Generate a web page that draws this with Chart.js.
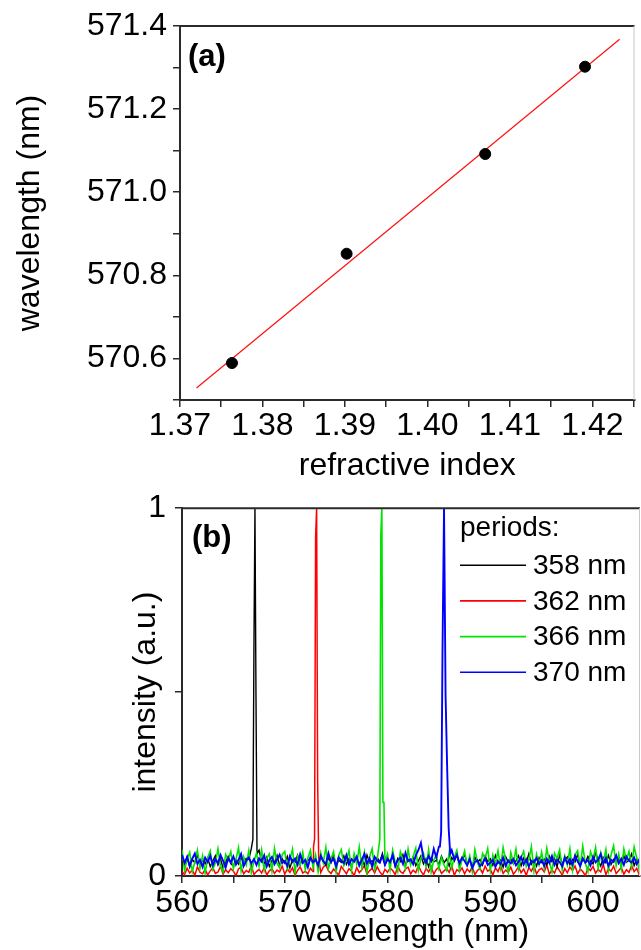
<!DOCTYPE html>
<html>
<head>
<meta charset="utf-8">
<title>refractive index / spectra</title>
<script src="https://cdn.jsdelivr.net/npm/chart.js"></script>
<style>
  body { margin: 0; background: #fff; }
  #wrap { position: relative; width: 641px; height: 950px; }
  #boxA { position: absolute; left: 0; top: 0; }
  #boxB { position: absolute; left: 0; top: 480px; }
</style>
</head>
<body>
<div id="wrap">
  <div id="boxA"><canvas id="chartA" width="641" height="480"></canvas></div>
  <div id="boxB"><canvas id="chartB" width="641" height="470"></canvas></div>
</div>
<script>
//* DATA: PANEL (a) *//
let refIndex = [1.3763, 1.3902, 1.4070, 1.4191];
let peakWavelength = [570.589, 570.852, 571.092, 571.302];
let fitIndex = [1.3720, 1.4233];
let fitWavelength = [570.529, 571.368];

//* DATA: PANEL (b) *//
let periodLabels = ['358 nm', '362 nm', '366 nm', '370 nm'];
let periodColors = ['#000000', '#ff0000', '#00e400', '#0000ff'];
let legendTitle = 'periods:';

// baseline samples start at 560 nm, one every 0.25 nm
let gridStart = 560;
let gridStep = 0.25;

let base358 = [
  0.04, 0.031, 0.052, 0.024, 0.045, 0.036, 0.058, 0.028, 0.043, 0.033,
  0.049, 0.026, 0.041, 0.055, 0.03, 0.046, 0.021, 0.038, 0.053, 0.034,
  0.027, 0.044, 0.032, 0.05, 0.039, 0.048, 0.045, 0.075, 0.08, 0.07,
  0.07, 0.04, 0.033, 0.051, 0.026, 0.042, 0.037, 0.056, 0.029, 0.047,
  0.035, 0.053, 0.022, 0.044, 0.038, 0.057, 0.031, 0.048, 0.027, 0.042,
  0.05, 0.034, 0.045, 0.025, 0.054, 0.039, 0.03, 0.049, 0.036, 0.058,
  0.028, 0.043, 0.037, 0.055, 0.032, 0.047, 0.024, 0.051, 0.04, 0.034,
  0.046, 0.029, 0.057, 0.036, 0.042, 0.027, 0.05, 0.038, 0.061, 0.031,
  0.044, 0.035, 0.053, 0.026, 0.048, 0.039, 0.058, 0.03, 0.045, 0.037,
  0.052, 0.028, 0.041, 0.055, 0.033, 0.047, 0.025, 0.049, 0.038, 0.043,
  0.031, 0.054, 0.036, 0.046, 0.027, 0.05, 0.04, 0.057, 0.032, 0.044,
  0.058, 0.034, 0.042, 0.026, 0.051, 0.037, 0.045, 0.03, 0.055, 0.039,
  0.047, 0.029, 0.056, 0.035, 0.043, 0.024, 0.052, 0.038, 0.046, 0.033,
  0.041, 0.055, 0.028, 0.049, 0.036, 0.06, 0.032, 0.044, 0.027, 0.05,
  0.037, 0.046, 0.03, 0.054, 0.039, 0.048, 0.025, 0.057, 0.034, 0.043,
  0.052, 0.031, 0.045, 0.038, 0.059, 0.029, 0.047, 0.036, 0.053, 0.04,
  0.033, 0.065, 0.042, 0.027, 0.05, 0.036, 0.056, 0.031, 0.045, 0.039,
  0.048, 0.03, 0.055, 0.037, 0.043, 0.06, 0.028, 0.046, 0.035, 0.052
];
let base362 = [
  0.012, 0.004, 0.021, 0.008, 0.016, 0.002, 0.025, 0.01, 0.006, 0.018,
  0.003, 0.014, 0.022, 0.007, 0.011, 0.026, 0.005, 0.017, 0.009, 0.02,
  0.013, 0.001, 0.019, 0.024, 0.006, 0.015, 0.01, 0.028, 0.004, 0.012,
  0.018, 0.008, 0.023, 0.003, 0.014, 0.02, 0.007, 0.016, 0.011, 0.027,
  0.005, 0.019, 0.01, 0.022, 0.002, 0.015, 0.025, 0.008, 0.013, 0.006,
  0.021, 0.012, 0.004, 0.017, 0.009, 0.024, 0.03, 0.014, 0.007, 0.019,
  0.011, 0.003, 0.026, 0.016, 0.006, 0.02, 0.013, 0.001, 0.023, 0.009,
  0.017, 0.028, 0.005, 0.014, 0.021, 0.008, 0.025, 0.011, 0.002, 0.018,
  0.01, 0.022, 0.015, 0.004, 0.027, 0.012, 0.007, 0.019, 0.024, 0.006,
  0.016, 0.009, 0.029, 0.013, 0.003, 0.021, 0.011, 0.026, 0.005, 0.018,
  0.024, 0.007, 0.014, 0.02, 0.01, 0.028, 0.002, 0.017, 0.012, 0.022,
  0.006, 0.019, 0.011, 0.025, 0.004, 0.015, 0.021, 0.008, 0.027, 0.013,
  0.018, 0.003, 0.022, 0.012, 0.029, 0.007, 0.016, 0.01, 0.024, 0.005,
  0.014, 0.026, 0.009, 0.019, 0.002, 0.023, 0.013, 0.028, 0.006, 0.017,
  0.021, 0.011, 0.03, 0.005, 0.016, 0.008, 0.025, 0.014, 0.003, 0.02,
  0.009, 0.024, 0.015, 0.027, 0.006, 0.019, 0.012, 0.001, 0.022, 0.015,
  0.026, 0.008, 0.018, 0.011, 0.031, 0.004, 0.02, 0.013, 0.027, 0.007,
  0.015, 0.023, 0.005, 0.017, 0.01, 0.028, 0.012, 0.021, 0.003, 0.019
];
let base366 = [
  0.072, 0.015, 0.046, 0.064, 0.012, 0.038, 0.07, 0.021, 0.055, 0.008,
  0.05, 0.068, 0.018, 0.035, 0.074, 0.026, 0.011, 0.059, 0.043, 0.066,
  0.02, 0.045, 0.077, 0.014, 0.052, 0.03, 0.069, 0.009, 0.04, 0.062,
  0.027, 0.071, 0.016, 0.048, 0.06, 0.013, 0.075, 0.034, 0.022, 0.058,
  0.067, 0.019, 0.044, 0.073, 0.01, 0.053, 0.031, 0.065, 0.017, 0.049,
  0.07, 0.024, 0.057, 0.012, 0.063, 0.036, 0.078, 0.02, 0.047, 0.066,
  0.011, 0.056, 0.072, 0.028, 0.042, 0.069, 0.015, 0.061, 0.033, 0.079,
  0.023, 0.064, 0.01, 0.051, 0.074, 0.018, 0.046, 0.068, 0.014, 0.039,
  0.06, 0.017, 0.07, 0.037, 0.012, 0.066, 0.045, 0.021, 0.073, 0.03,
  0.054, 0.076, 0.015, 0.048, 0.062, 0.025, 0.071, 0.011, 0.043, 0.058,
  0.02, 0.05, 0.03, 0.015, 0.065, 0.022, 0.052, 0.07, 0.016, 0.044,
  0.068, 0.029, 0.055, 0.012, 0.072, 0.038, 0.019, 0.061, 0.047, 0.075,
  0.014, 0.057, 0.033, 0.069, 0.022, 0.078, 0.041, 0.009, 0.064, 0.036,
  0.073, 0.018, 0.05, 0.067, 0.026, 0.044, 0.08, 0.013, 0.059, 0.031,
  0.065, 0.021, 0.076, 0.039, 0.011, 0.062, 0.048, 0.071, 0.017, 0.055,
  0.03, 0.074, 0.016, 0.058, 0.069, 0.024, 0.081, 0.035, 0.012, 0.066,
  0.046, 0.078, 0.02, 0.063, 0.037, 0.072, 0.015, 0.057, 0.082, 0.028,
  0.06, 0.019, 0.074, 0.043, 0.067, 0.025, 0.079, 0.05, 0.014, 0.07
];
let base370 = [
  0.058, 0.036, 0.052, 0.028, 0.047, 0.061, 0.033, 0.044, 0.025, 0.05,
  0.038, 0.055, 0.029, 0.046, 0.034, 0.057, 0.041, 0.023, 0.049, 0.037,
  0.053, 0.031, 0.044, 0.06, 0.027, 0.042, 0.05, 0.034, 0.046, 0.03,
  0.048, 0.039, 0.056, 0.026, 0.043, 0.052, 0.032, 0.045, 0.058, 0.035,
  0.041, 0.027, 0.054, 0.038, 0.047, 0.03, 0.059, 0.036, 0.044, 0.024,
  0.05, 0.037, 0.045, 0.029, 0.055, 0.04, 0.033, 0.062, 0.038, 0.047,
  0.026, 0.051, 0.042, 0.035, 0.057, 0.031, 0.046, 0.039, 0.053, 0.028,
  0.044, 0.06, 0.034, 0.048, 0.025, 0.052, 0.041, 0.036, 0.055, 0.03,
  0.047, 0.038, 0.058, 0.027, 0.043, 0.05, 0.033, 0.063, 0.04, 0.045,
  0.032, 0.056, 0.07, 0.09, 0.048, 0.036, 0.054, 0.041, 0.074, 0.05,
  0.08, 0.06, 0.05, 0.04, 0.06, 0.07, 0.045, 0.058, 0.035, 0.05,
  0.041, 0.029, 0.046, 0.022, 0.038, 0.043, 0.027, 0.035, 0.048, 0.03,
  0.036, 0.044, 0.025, 0.04, 0.032, 0.05, 0.028, 0.042, 0.034, 0.046,
  0.029, 0.039, 0.052, 0.031, 0.045, 0.026, 0.041, 0.037, 0.049, 0.033,
  0.043, 0.028, 0.047, 0.035, 0.054, 0.03, 0.044, 0.038, 0.026, 0.05,
  0.034, 0.046, 0.031, 0.055, 0.04, 0.027, 0.048, 0.036, 0.043, 0.029,
  0.052, 0.037, 0.045, 0.06, 0.033, 0.049, 0.028, 0.044, 0.038, 0.056,
  0.035, 0.047, 0.03, 0.053, 0.041, 0.037, 0.05, 0.032, 0.045, 0.039
];

// the lasing peaks, sampled finer than the baseline
let peak358X = [566.9, 567.0, 567.1, 567.2, 567.3];
let peak358Y = [0.1, 0.62, 1.0, 0.49, 0.06];
let peak362X = [572.8, 572.9, 573.0, 573.1, 573.2, 573.3];
let peak362Y = [0.08, 0.1, 0.92, 1.0, 0.26, 0.05];
let peak366X = [579.25, 579.35, 579.45, 579.55, 579.65, 579.75];
let peak366Y = [0.1, 0.93, 1.0, 0.2, 0.2, 0.04];
let peak370X = [585.1, 585.22, 585.35, 585.5, 585.65, 585.8, 585.95, 586.1];
let peak370Y = [0.08, 0.12, 0.61, 1.0, 0.49, 0.3, 0.13, 0.06];

//* FONTS / COLORS *//
let fontFamily = '"Liberation Sans", Arial, Helvetica, sans-serif';
let axisColor = '#2a2a2a';
Chart.defaults.font.family = fontFamily;
Chart.defaults.color = '#000';

//* HELPERS *//
function toPoints(xs, ys) {
  return xs.map((x, i) => ({ x: x, y: ys[i] }));
}

function buildSpectrum(base, peakX, peakY) {
  let pts = [];
  base.forEach((y, i) => {
    let x = gridStart + i * gridStep;
    if (x < peakX[0] || x > peakX[peakX.length - 1]) {
      pts.push({ x: x, y: y });
    }
  });
  peakX.forEach((x, i) => pts.push({ x: x, y: peakY[i] }));
  return pts.sort((a, b) => a.x - b.x);
}

// top/right frame line and the bold panel letter
let framePlugin = {
  id: 'frame',
  afterDatasetsDraw(chart, args, opts) {
    let ctx = chart.ctx;
    let a = chart.chartArea;
    ctx.save();
    ctx.strokeStyle = axisColor;
    ctx.lineWidth = 2;
    ctx.beginPath();
    ctx.moveTo(a.left, a.top);
    ctx.lineTo(a.right, a.top);
    ctx.stroke();
    ctx.strokeStyle = '#c8c8c8';
    ctx.lineWidth = 1;
    ctx.beginPath();
    ctx.moveTo(a.right - 0.5, a.top);
    ctx.lineTo(a.right - 0.5, a.bottom);
    ctx.stroke();
    ctx.fillStyle = '#000';
    ctx.font = 'bold 31px ' + fontFamily;
    ctx.textBaseline = 'middle';
    ctx.textAlign = 'left';
    ctx.fillText(opts.label, a.left + opts.dx, a.top + opts.dy);
    ctx.restore();
  }
};

// legend of panel (b), drawn inside the plot
let periodsLegend = {
  id: 'periodsLegend',
  afterDraw(chart) {
    let ctx = chart.ctx;
    let a = chart.chartArea;
    let x0 = a.left + 278;
    ctx.save();
    ctx.font = '28px ' + fontFamily;
    ctx.fillStyle = '#000';
    ctx.textBaseline = 'middle';
    ctx.textAlign = 'left';
    ctx.fillText(legendTitle, x0, a.top + 20);
    chart.data.datasets.forEach((ds, i) => {
      let y = a.top + 57 + i * 35.7;
      ctx.strokeStyle = ds.borderColor;
      ctx.lineWidth = 1.6;
      ctx.beginPath();
      ctx.moveTo(x0, y);
      ctx.lineTo(x0 + 66, y);
      ctx.stroke();
      ctx.fillStyle = '#000';
      ctx.fillText(ds.label, x0 + 73, y + 1);
    });
    ctx.restore();
  }
};

//* PANEL (a) *//
new Chart(document.getElementById('chartA'), {
  type: 'scatter',
  data: {
    datasets: [
      {
        label: 'measured',
        data: toPoints(refIndex, peakWavelength),
        backgroundColor: '#000',
        borderColor: '#000',
        pointRadius: 5.5,
        pointHoverRadius: 5.5
      },
      {
        label: 'linear fit',
        data: toPoints(fitIndex, fitWavelength),
        showLine: true,
        borderColor: '#ff1010',
        borderWidth: 1.2,
        pointRadius: 0
      }
    ]
  },
  options: {
    responsive: false,
    animation: false,
    layout: { padding: { top: 26, right: 1, left: 0, bottom: 0 } },
    plugins: {
      legend: { display: false },
      tooltip: { enabled: false },
      frame: { label: '(a)', dx: 8, dy: 31.5 }
    },
    scales: {
      x: {
        type: 'linear',
        min: 1.37,
        max: 1.4251,
        afterFit(scale) { scale.height = 80; },
        border: { color: axisColor, width: 2 },
        grid: { drawOnChartArea: false, tickLength: 7, color: axisColor, lineWidth: 1.5 },
        ticks: {
          stepSize: 0.005,
          includeBounds: false,
          autoSkip: false,
          maxRotation: 0,
          padding: 0,
          color: '#000',
          font: { size: 32 },
          callback(v) {
            let t = Math.round(v * 1000);
            return t % 10 === 0 ? (t / 1000).toFixed(2) : '';
          }
        },
        title: {
          display: true,
          text: 'refractive index',
          color: '#000',
          font: { size: 32, lineHeight: 0.85 },
          padding: 0
        }
      },
      y: {
        min: 570.5,
        max: 571.4,
        afterFit(scale) { scale.width = 180; },
        border: { color: axisColor, width: 2 },
        grid: { drawOnChartArea: false, tickLength: 7, color: axisColor, lineWidth: 1.5 },
        ticks: {
          stepSize: 0.1,
          includeBounds: false,
          autoSkip: false,
          padding: 6,
          color: '#000',
          font: { size: 32 },
          callback(v) {
            let t = Math.round(v * 10);
            return t % 2 === 0 ? (t / 10).toFixed(1) : '';
          }
        },
        title: {
          display: true,
          text: 'wavelength (nm)',
          color: '#000',
          font: { size: 32 },
          padding: { top: 11, bottom: 0 }
        }
      }
    }
  },
  plugins: [framePlugin]
});

//* PANEL (b) *//
let spectra = [
  buildSpectrum(base358, peak358X, peak358Y),
  buildSpectrum(base362, peak362X, peak362Y),
  buildSpectrum(base366, peak366X, peak366Y),
  buildSpectrum(base370, peak370X, peak370Y)
];
// blue on top, then green, black, red underneath
let drawOrder = [2, 3, 1, 0];
let lineWidths = [1.4, 1.5, 1.6, 1.9];

new Chart(document.getElementById('chartB'), {
  type: 'line',
  data: {
    datasets: spectra.map((pts, i) => ({
      label: periodLabels[i],
      data: pts,
      borderColor: periodColors[i],
      borderWidth: lineWidths[i],
      pointRadius: 0,
      tension: 0,
      fill: false,
      order: drawOrder[i]
    }))
  },
  options: {
    responsive: false,
    animation: false,
    layout: { padding: { top: 24, right: 1, left: 0, bottom: 0 } },
    plugins: {
      legend: { display: false },
      tooltip: { enabled: false },
      frame: { label: '(b)', dx: 10, dy: 30 }
    },
    scales: {
      x: {
        type: 'linear',
        min: 560,
        max: 604.57,
        afterFit(scale) { scale.height = 74; },
        border: { color: axisColor, width: 2 },
        grid: { drawOnChartArea: false, tickLength: 7, color: axisColor, lineWidth: 1.5 },
        ticks: {
          stepSize: 5,
          includeBounds: false,
          autoSkip: false,
          maxRotation: 0,
          padding: 1,
          color: '#000',
          font: { size: 32 },
          callback(v) {
            return Math.round(v) % 10 === 0 ? String(Math.round(v)) : '';
          }
        },
        title: {
          display: true,
          text: 'wavelength (nm)',
          color: '#000',
          font: { size: 32, lineHeight: 1.1 },
          padding: 0
        }
      },
      y: {
        min: 0,
        max: 1,
        afterFit(scale) { scale.width = 182; },
        border: { color: axisColor, width: 2 },
        grid: { drawOnChartArea: false, tickLength: 7, color: axisColor, lineWidth: 1.5 },
        ticks: {
          stepSize: 0.5,
          autoSkip: false,
          padding: 9,
          color: '#000',
          font: { size: 32 },
          callback(v) {
            return v === 0 || v === 1 ? String(v) : '';
          }
        },
        title: {
          display: true,
          text: 'intensity (a.u.)',
          color: '#000',
          font: { size: 32 },
          padding: { top: 127, bottom: 0 }
        }
      }
    }
  },
  plugins: [framePlugin, periodsLegend]
});
</script>
</body>
</html>
